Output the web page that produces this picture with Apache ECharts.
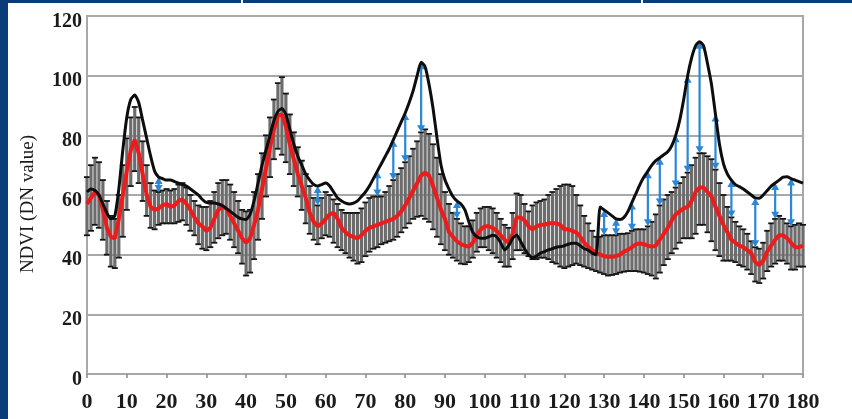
<!DOCTYPE html>
<html>
<head>
<meta charset="utf-8">
<title>NDVI</title>
<script src="https://cdn.jsdelivr.net/npm/echarts@6/dist/echarts.min.js"></script>
<style>
  html, body { margin: 0; padding: 0; }
  body { width: 852px; height: 419px; background: #0b3c7a; position: relative; overflow: hidden; }
  #chart { position: absolute; left: 8px; top: 3px; width: 844px; height: 416px; background: #ffffff; }
  .rule { position: absolute; top: 0; width: 2px; height: 3px; background: #ffffff; }
</style>
</head>
<body>
<div class="rule" style="left:241px"></div>
<div class="rule" style="left:641px"></div>
<div id="chart"></div>
<script>
// Daily NDVI profile, index = day 0..180
// Black curve: observed NDVI of the monitored site
const siteNdvi = [
  61, 62, 61.5, 60, 57, 54, 52, 53, 62, 75,
  86, 92, 93.5, 91, 85, 79, 73, 68, 66, 65.5,
  65, 65, 64.5, 64, 63.5, 63, 62, 61, 60, 58.5,
  57.5, 57.3, 57.3, 57, 56.5, 55.5, 54.5, 53.5, 52.5, 52,
  51.8, 53.5, 58, 64, 70, 75, 80, 85, 88, 89,
  87, 82, 77, 73, 70, 67, 65, 63.5, 63, 63.5,
  64, 63, 61, 59, 58, 57.3, 57, 57.3, 58, 59.5,
  61, 63, 65.5, 68, 70.5, 73, 75.5, 78.5, 81.5, 84.5,
  87.5, 91, 95, 100, 104.5, 103, 97, 89, 79, 70,
  65, 62, 59.5, 58, 57, 55, 51, 47.5, 46, 45.5,
  45.5, 46, 46.5, 46, 44, 41.6, 43, 45.5, 46.6, 44.5,
  42, 40, 39, 39.5, 40.5, 41, 41.6, 42, 42.5, 42.7,
  43, 43.5, 43.8, 43.8, 43, 42, 41.5, 40.5, 40, 56,
  55, 54, 53, 52, 51.8, 52.5, 54.5, 57.5, 60.5, 63.5,
  66, 68, 70, 71.5, 72.5, 73.5, 74.5, 76.5, 80, 85,
  92, 100, 106, 110, 111.4, 110, 104, 97, 87, 77,
  70.5, 67, 65, 63.5, 62.8, 62, 61, 60, 59, 58.9,
  60, 61.5, 63, 64, 65, 66, 66.1, 65.5, 65, 64.5,
  64
];

// Red curve: mean NDVI of the reference pixels
const meanNdvi = [
  57, 59, 61, 60, 55, 49, 46, 45.5, 52, 60,
  68, 75, 78.5, 74, 67, 60, 56, 55, 55.5, 56.5,
  57, 56, 56.5, 58, 58.5, 57, 55, 52.5, 50.5, 49.5,
  48, 49, 52, 55, 56, 55.5, 53, 50.5, 48, 45.5,
  44, 45.5, 50, 55, 62, 69, 76, 82, 86.5, 87,
  83, 77, 72, 67, 63, 59, 54, 51, 49.5, 50.5,
  52, 53.5, 54, 52, 49, 47.5, 46.5, 46, 45.5, 46.5,
  48, 49, 49.5, 50, 50.5, 51, 51.5, 52, 53, 54.5,
  56.5, 59, 61.5, 64, 66.5, 67.5, 66.5, 63, 59, 55,
  52, 47.5, 46, 44.5, 43.5, 43, 42.7, 44, 46.5, 48.5,
  49.5, 49.5, 49, 48, 46.5, 45, 44, 47, 52.5, 52.5,
  51.5, 49.5, 48.5, 49.5, 50, 50, 50.5, 50.5, 50.5, 50,
  48.5, 48.5, 48, 47.5, 46, 44, 42.7, 41.5, 40.5, 40,
  39.5, 39.3, 39.3, 39.5, 40, 41, 41.6, 42.5, 43.5, 43.8,
  43.5, 43, 42.7, 43, 45, 47, 49, 51.5, 53.5, 54.5,
  55.5, 56, 58, 61, 62.5, 62.5, 61, 59.5, 56, 53,
  50, 47.5, 45, 44, 43, 42.5, 41.5, 40.5, 37.5, 36.5,
  38, 41, 43, 45, 46.5, 46.5, 45.5, 44, 42.5, 42.5,
  43
];

// Top of each error bar
const upperNdvi = [
  66, 70, 72.5, 71, 65, 58, 53, 52, 60, 70,
  79, 86, 89.5, 86, 78, 70, 64, 61.5, 61, 61.5,
  62, 61.5, 62, 63.5, 64, 62.5, 60, 58, 56.5, 56,
  56, 58, 61, 64, 65, 65, 63.5, 61, 58, 55,
  54.5, 55, 61, 67, 74, 80, 86, 92, 97.5, 99.5,
  94, 87, 81, 76, 71.5, 67, 63, 59, 56.5, 59,
  61, 60, 58.5, 57, 55, 54, 54, 54, 54, 55.5,
  57.5, 59, 59.5, 59.5, 59.5, 61, 63, 65, 67, 69,
  71, 73, 75.5, 78, 81, 82, 80.5, 77, 72.5, 67,
  61, 57, 54, 52, 50.5, 49.5, 49.5, 51.5, 54, 55.5,
  56, 56, 55.5, 54, 52, 50, 49, 54, 60.5, 60,
  57, 54.5, 56.5, 57.5, 58, 58.5, 60, 61, 62, 63,
  63.5, 63.5, 63, 60, 56.5, 53, 50.5, 48, 46, 46,
  46.5, 46.5, 46.5, 46.5, 47, 47, 47.2, 48, 48.5, 48.5,
  48.5, 49.5, 51, 53.5, 56.5, 58.5, 60, 61, 62.5, 64,
  66, 67.5, 70, 72.5, 74, 74, 73, 72, 68.5, 64,
  60, 56, 52.5, 51, 49.5, 48.5, 47, 44.5, 42.5, 42,
  44, 48, 50.5, 52, 53, 52, 50.5, 49.5, 50, 50.5,
  50
];

// Bottom of each error bar
const lowerNdvi = [
  46.5, 48, 50, 49, 45, 40, 36, 35.5, 39, 46,
  55, 63, 68, 64, 58, 53, 49, 48.5, 50, 50.5,
  50.5, 50.5, 50.5, 51, 51.5, 50, 48, 46.5, 43.5, 42,
  41.5, 42.5, 44, 45.5, 46.5, 47, 45, 42.5, 40.5, 37,
  33, 34, 38.5, 45, 52, 59.5, 66, 72, 75.5, 73.5,
  71, 67, 63, 59.5, 55, 50.5, 47, 45, 43.5, 45.5,
  46.5, 46, 44, 42.5, 41.5, 40.5, 39, 38, 37, 37.5,
  39.5, 41, 42, 42.5, 43.5, 44, 44.5, 45, 46, 47.5,
  49, 50.5, 52, 52.7, 53, 52, 51, 48.5, 46, 43.5,
  41.5, 40, 39, 38, 37, 36.8, 37.5, 39, 41, 42.5,
  42.5, 41.5, 40.5, 39, 37.5, 36, 36, 38.5, 41.5, 41.5,
  40.5, 39.5, 38.5, 38.5, 39, 39, 38.5, 37.5, 37, 36,
  35.5, 36, 36.5, 37, 36.5, 36, 35.5, 35, 34.5, 34,
  33.5, 33, 33.2, 33.5, 34, 34.3, 34.5, 34.5, 34.5, 34.3,
  34, 33.5, 33, 32, 34, 36.5, 38.5, 40.5, 42, 44,
  45.5, 45.5, 45.5, 47, 50, 50, 47.5, 44.5, 41.5, 39.5,
  38, 38, 38, 37.5, 36.5, 36, 35, 33.5, 31, 30.5,
  32, 34.5, 36, 37, 38, 38, 37, 35, 35, 36,
  36
];

// Days where the site departs from the reference envelope (blue arrows)
const anomalyDays = [18, 58, 73, 77, 80, 84, 93, 130, 133, 137, 141, 144, 148, 151, 154, 158, 162, 168, 173, 177];

// Axis ranges
const xRange = [0, 180, 10];
const yRange = [0, 120, 20];

const serif = '"Liberation Serif", "Times New Roman", serif';

const barData = meanNdvi.map((m, i) => [i, lowerNdvi[i], upperNdvi[i]]);
const meanData = meanNdvi.map((m, i) => [i, m]);
const siteData = siteNdvi.map((v, i) => [i, v]);
const arrowData = anomalyDays.map(d => [d, siteNdvi[d], upperNdvi[d]]);

const chart = echarts.init(document.getElementById('chart'), null, { renderer: 'canvas' });

chart.setOption({
  animation: false,
  backgroundColor: '#ffffff',
  grid: {
    left: 79, right: 49, top: 13, bottom: 45,
    show: true, borderColor: '#a8a8a8', borderWidth: 2
  },
  xAxis: {
    type: 'value',
    min: xRange[0], max: xRange[1], interval: xRange[2],
    axisLine: { show: true, lineStyle: { color: '#a8a8a8', width: 2 } },
    axisTick: { show: true, length: 4, lineStyle: { color: '#888888', width: 1.5 } },
    splitLine: { show: false },
    axisLabel: {
      margin: 17,
      fontFamily: serif, fontWeight: 'bold', fontSize: 22, color: '#1b1b1b'
    }
  },
  yAxis: {
    type: 'value',
    min: yRange[0], max: yRange[1], interval: yRange[2],
    axisLine: { show: true, lineStyle: { color: '#a8a8a8', width: 2 } },
    axisTick: { show: false },
    splitLine: { show: true, lineStyle: { color: '#a8a8a8', width: 2 } },
    axisLabel: {
      margin: 5,
      verticalAlign: 'top',
      lineHeight: 11,
      fontFamily: serif, fontWeight: 'bold', fontSize: 20, color: '#1b1b1b'
    }
  },
  graphic: [{
    type: 'text',
    x: 20, y: 201,
    rotation: Math.PI / 2,
    style: {
      text: 'NDVI (DN value)',
      fontFamily: serif, fontSize: 19, fill: '#1b1b1b',
      textAlign: 'center', textVerticalAlign: 'middle'
    }
  }],
  series: [
    {
      // error bars around the reference mean
      type: 'custom',
      z: 1,
      data: barData,
      renderItem: function (params, api) {
        const x = api.value(0);
        const lo = api.coord([x, api.value(1)]);
        const hi = api.coord([x, api.value(2)]);
        const hw = 3;
        return {
          type: 'group',
          children: [
            { type: 'line', shape: { x1: lo[0], y1: lo[1], x2: hi[0], y2: hi[1] },
              style: { stroke: '#6c6c6c', lineWidth: 3.2 } },
            { type: 'line', shape: { x1: hi[0] - hw, y1: hi[1], x2: hi[0] + hw, y2: hi[1] },
              style: { stroke: '#151515', lineWidth: 1.8 } },
            { type: 'line', shape: { x1: lo[0] - hw, y1: lo[1], x2: lo[0] + hw, y2: lo[1] },
              style: { stroke: '#151515', lineWidth: 1.8 } }
          ]
        };
      }
    },
    {
      // reference mean
      type: 'line',
      z: 2,
      data: meanData,
      symbol: 'none',
      lineStyle: { color: '#ec1c1c', width: 4 }
    },
    {
      // departures: double-headed arrows from site curve to envelope top
      type: 'custom',
      z: 3,
      data: arrowData,
      renderItem: function (params, api) {
        const x = api.value(0);
        const top = api.coord([x, api.value(1)]);
        const bot = api.coord([x, api.value(2)]);
        const c = '#2b87d6';
        const hw = 4, hh = 7;
        return {
          type: 'group',
          children: [
            { type: 'line', shape: { x1: top[0], y1: top[1] + hh - 1, x2: bot[0], y2: bot[1] - hh + 1 },
              style: { stroke: c, lineWidth: 2.2 } },
            { type: 'polygon', shape: { points: [[top[0], top[1]], [top[0] - hw, top[1] + hh], [top[0] + hw, top[1] + hh]] },
              style: { fill: c } },
            { type: 'polygon', shape: { points: [[bot[0], bot[1]], [bot[0] - hw, bot[1] - hh], [bot[0] + hw, bot[1] - hh]] },
              style: { fill: c } }
          ]
        };
      }
    },
    {
      // monitored site
      type: 'line',
      z: 4,
      data: siteData,
      symbol: 'none',
      smooth: 0.2,
      lineStyle: { color: '#0d0d0d', width: 3 }
    }
  ]
});
</script>
</body>
</html>
